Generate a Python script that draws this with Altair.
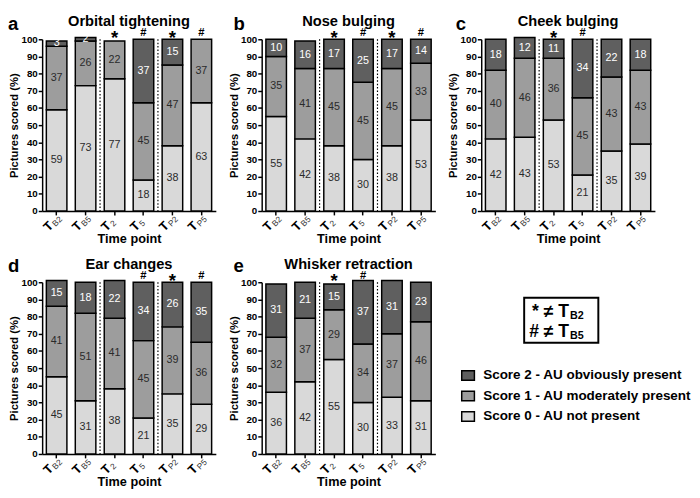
import altair as alt
import pandas as pd

FONT = "Liberation Sans"

TIMEPOINTS = ["TB2", "TB5", "T2", "T5", "TP2", "TP5"]
SUBSCRIPTS = ["B2", "B5", "2", "5", "P2", "P5"]
SEPARATORS = ["T2", "TP2"]

SCORES = ["Score 2 - AU obviously present",
          "Score 1 - AU moderately present",
          "Score 0 - AU not present"]
COLORS = ["#5f5f5f", "#9d9d9d", "#d9d9d9"]

LETTERS = ["a", "b", "c", "d", "e"]
TITLES = ["Orbital tightening", "Nose bulging", "Cheek bulging",
          "Ear changes", "Whisker retraction"]

# score 0 / score 1 / score 2 percentages per time point
ORBITAL_S0 = [59, 73, 77, 18, 38, 63]
ORBITAL_S1 = [37, 26, 22, 45, 47, 37]
ORBITAL_S2 = [3, 2, 0, 37, 15, 0]
ORBITAL_SIG = ["", "", "*", "#", "*", "#"]

NOSE_S0 = [55, 42, 38, 30, 38, 53]
NOSE_S1 = [35, 41, 45, 45, 45, 33]
NOSE_S2 = [10, 16, 17, 25, 17, 14]
NOSE_SIG = ["", "", "*", "#", "*", "#"]

CHEEK_S0 = [42, 43, 53, 21, 35, 39]
CHEEK_S1 = [40, 46, 36, 45, 43, 43]
CHEEK_S2 = [18, 12, 11, 34, 22, 18]
CHEEK_SIG = ["", "", "*", "#", "", ""]

EAR_S0 = [45, 31, 38, 21, 35, 29]
EAR_S1 = [41, 51, 41, 45, 39, 36]
EAR_S2 = [15, 18, 22, 34, 26, 35]
EAR_SIG = ["", "", "", "#", "*", "#"]

WHISKER_S0 = [36, 42, 55, 30, 33, 31]
WHISKER_S1 = [32, 37, 29, 34, 37, 46]
WHISKER_S2 = [31, 21, 15, 37, 31, 23]
WHISKER_SIG = ["", "", "*", "#", "", ""]

KEY_SYMBOLS = ["* \u2260 T", "# \u2260 T"]
KEY_SUBS = ["B2", "B5"]

W = 178
H = 176
LETTER_X = [-35, -29, -26, -35, -29]


def xenc(band=None):
    kw = dict(sort=TIMEPOINTS,
              scale=alt.Scale(paddingInner=0, paddingOuter=0),
              axis=alt.Axis(labels=False, title="Time point", tickSize=4,
                            titlePadding=18, titleFontSize=13))
    if band is not None:
        kw["bandPosition"] = band
    return alt.X("tp:N", **kw)


def yenc(field):
    return alt.Y(field, scale=alt.Scale(domain=[0, 100], nice=False),
                 axis=alt.Axis(values=list(range(0, 101, 10)),
                               title="Pictures scored (%)", tickSize=4,
                               labelPadding=1, titlePadding=1.5, grid=False))


def panel(idx, s0, s1, s2, sig, with_legend=False):
    rows = []
    for i, tp in enumerate(TIMEPOINTS):
        for order, (score, vals) in enumerate(zip(SCORES[::-1], [s0, s1, s2])):
            rows.append({"tp": tp, "score": score, "order": order, "value": vals[i]})
    df = pd.DataFrame(rows)

    base = (alt.Chart(df)
            .transform_stack(stack="value", groupby=["tp"],
                             sort=[alt.SortField("order", order="ascending")],
                             as_=["y0", "y1"])
            .transform_calculate(mid="(datum.y0 + datum.y1) / 2")
            .transform_filter("datum.value > 0"))

    if with_legend:
        legend = alt.Legend(orient="none", legendX=204, legendY=88, title=None,
                            symbolType="M-1,-0.75H1V0.75H-1Z", symbolSize=169,
                            symbolStrokeColor="black", symbolStrokeWidth=1.5,
                            symbolOpacity=1, labelFont=FONT, labelFontSize=13.8,
                            labelFontWeight="bold", labelColor="black",
                            rowPadding=4, labelOffset=8, padding=0,
                            labelLimit=400)
    else:
        legend = None

    bars = base.mark_bar(width=alt.RelativeBandSize(0.71), stroke="black",
                         strokeWidth=1.5).encode(
        x=xenc(),
        y=yenc("y0:Q"),
        y2="y1:Q",
        color=alt.Color("score:N", scale=alt.Scale(domain=SCORES, range=COLORS),
                        legend=legend),
    )

    values = base.mark_text(font=FONT, fontSize=11).encode(
        x=xenc(),
        y=yenc("mid:Q"),
        text="value:Q",
        color=alt.condition("datum.order == 2", alt.value("white"), alt.value("#2a2a2a")),
    )

    sep_df = pd.DataFrame({"tp": SEPARATORS})
    seps = alt.Chart(sep_df).mark_rule(color="black", strokeWidth=1.2,
                                       strokeDash=[1.5, 2]).encode(
        x=xenc(0), y=alt.value(0), y2=alt.value(H))

    sig_df = pd.DataFrame({"tp": TIMEPOINTS, "sym": sig})
    stars = alt.Chart(sig_df).transform_filter("datum.sym == '*'").mark_text(
        font=FONT, fontSize=19, fontWeight="bold", baseline="alphabetic").encode(
        x=xenc(), y=alt.value(5), text="sym:N")
    hashes = alt.Chart(sig_df).transform_filter("datum.sym == '#'").mark_text(
        font=FONT, fontSize=11.5, fontWeight="bold", baseline="alphabetic").encode(
        x=xenc(), y=alt.value(-3), text="sym:N")

    lab_df = pd.DataFrame({"tp": TIMEPOINTS, "sub": SUBSCRIPTS})
    t_main = alt.Chart(lab_df).mark_text(
        text="T", font=FONT, fontSize=13, fontWeight="bold", angle=315,
        align="right", baseline="alphabetic", color="black",
        dx=-2, dy=-2).encode(
        x=xenc(), y=alt.value(H + 16))
    t_sub = alt.Chart(lab_df).mark_text(
        font=FONT, fontSize=8.5, angle=315, align="left", baseline="alphabetic",
        dx=-1, dy=-0.5, color="#333333").encode(
        x=xenc(), y=alt.value(H + 16), text="sub:N")

    head_df = pd.DataFrame({"letter": [LETTERS[idx]], "title": [TITLES[idx]]})
    letter = alt.Chart(head_df).mark_text(
        font=FONT, fontSize=19, fontWeight="bold", align="left",
        baseline="alphabetic", color="black").encode(
        x=alt.value(LETTER_X[idx]), y=alt.value(-10), text="letter:N")
    title = alt.Chart(head_df).mark_text(
        font=FONT, fontSize=15, fontWeight="bold", align="center",
        baseline="alphabetic", color="black").encode(
        x=alt.value(W / 2), y=alt.value(-14), text="title:N")

    layers = [bars, values, seps, stars, hashes, t_main, t_sub, letter, title]

    if with_legend:
        key_df = pd.DataFrame({"sym": KEY_SYMBOLS, "sub": KEY_SUBS, "row": [0, 1]})
        box = alt.Chart(pd.DataFrame({"k": [0]})).mark_rect(
            fill="transparent", stroke="black", strokeWidth=2).encode(
            x=alt.value(269), x2=alt.value(345), y=alt.value(16), y2=alt.value(62))
        key1 = alt.Chart(key_df).transform_filter("datum.row == 0").mark_text(
            font=FONT, fontSize=18, fontWeight="bold", align="right",
            baseline="alphabetic", color="black").encode(
            x=alt.value(315), y=alt.value(36), text="sym:N")
        key1s = alt.Chart(key_df).transform_filter("datum.row == 0").mark_text(
            font=FONT, fontSize=11, fontWeight="bold", align="left",
            baseline="alphabetic", color="black").encode(
            x=alt.value(316), y=alt.value(38), text="sub:N")
        key2 = alt.Chart(key_df).transform_filter("datum.row == 1").mark_text(
            font=FONT, fontSize=18, fontWeight="bold", align="right",
            baseline="alphabetic", color="black").encode(
            x=alt.value(315), y=alt.value(56), text="sym:N")
        key2s = alt.Chart(key_df).transform_filter("datum.row == 1").mark_text(
            font=FONT, fontSize=11, fontWeight="bold", align="left",
            baseline="alphabetic", color="black").encode(
            x=alt.value(316), y=alt.value(58), text="sub:N")
        layers += [box, key1, key1s, key2, key2s]

    return alt.layer(*layers).properties(width=W, height=H)


pa = panel(0, ORBITAL_S0, ORBITAL_S1, ORBITAL_S2, ORBITAL_SIG)
pb = panel(1, NOSE_S0, NOSE_S1, NOSE_S2, NOSE_SIG)
pc = panel(2, CHEEK_S0, CHEEK_S1, CHEEK_S2, CHEEK_SIG)
pd_ = panel(3, EAR_S0, EAR_S1, EAR_S2, EAR_SIG)
pe = panel(4, WHISKER_S0, WHISKER_S1, WHISKER_S2, WHISKER_SIG, with_legend=True)

row1 = alt.hconcat(pa, pb, pc, spacing=12).resolve_scale(color="independent")
row2 = alt.hconcat(pd_, pe, spacing=12).resolve_scale(color="independent")

chart = (alt.vconcat(row1, row2, spacing=11)
         .resolve_scale(color="independent")
         .properties(padding={"left": 0, "top": 0, "right": 0, "bottom": 0})
         .configure_view(stroke=None)
         .configure_axis(labelFont=FONT, titleFont=FONT, labelFontSize=10,
                         labelFontWeight="bold", labelColor="black",
                         titleFontSize=11.5, titleFontWeight="bold",
                         titleColor="black", domainColor="black",
                         domainWidth=1.5, tickColor="black", tickWidth=1.5))

chart.save("out.html", embed_options={"renderer": "svg", "actions": False})
